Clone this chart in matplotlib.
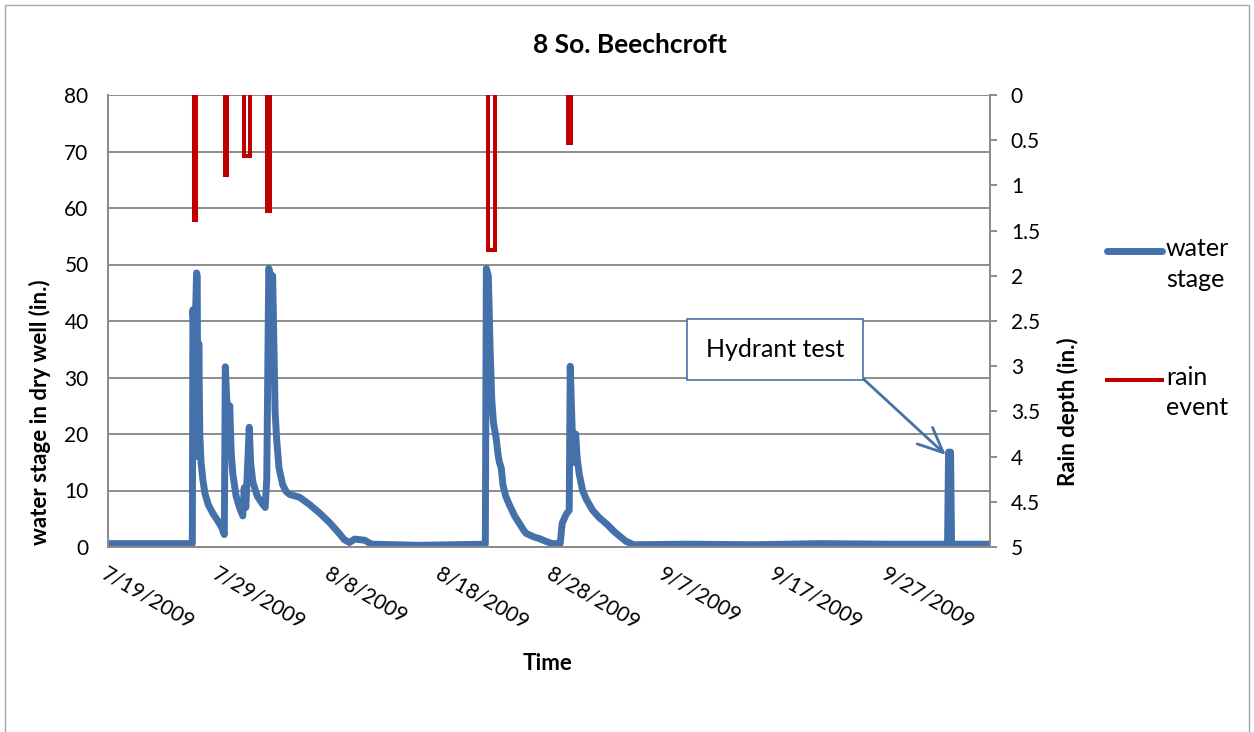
import numpy as np
import pandas as pd
import matplotlib
matplotlib.use('Agg')
import matplotlib.pyplot as plt
import matplotlib.dates as mdates
from matplotlib.patches import Rectangle
from matplotlib.ticker import FormatStrFormatter
from matplotlib.legend_handler import HandlerLine2D

plt.rcParams['font.family'] = ['Lato', 'DejaVu Sans']

# water stage readings, days since 7/19/2009 00:00 and stage (in.)
stage_day = [0.0, 3.76, 7.57, 7.62, 7.80, 7.95, 8.01, 8.06, 8.15, 8.24, 8.35, 8.51, 8.7,
             9.0, 9.4, 9.86, 10.2, 10.44, 10.53, 10.75, 10.93, 11.05, 11.2, 11.5, 11.8,
             12.10, 12.23, 12.37, 12.68, 12.8, 13.0, 13.4, 13.8, 14.11, 14.25, 14.43,
             14.61, 14.78, 14.9, 15.0, 15.14, 15.35, 15.68, 16.0, 16.31, 17.2, 18.1, 19.0,
             19.9, 20.8, 21.2, 21.68, 22.13, 23.03, 23.66, 27.96, 33.87, 33.96, 34.14,
             34.3, 34.45, 34.6, 34.86, 35.0, 35.13, 35.3, 35.45, 35.7, 36.02, 36.5, 36.92,
             37.3, 37.54, 38.2, 38.71, 39.3, 39.87, 40.59, 40.77, 41.13, 41.40, 41.49,
             41.6, 41.75, 41.85, 41.98, 42.1, 42.29, 42.6, 42.92, 43.5, 44.09, 44.8, 45.4,
             46.0, 46.5, 47.2, 52.0, 58.0, 64.0, 70.0, 75.36, 75.45, 75.63, 75.72, 79.1]
stage_in = [0.6, 0.6, 0.6, 42.0, 36.0, 48.5, 48.0, 16.0, 36.0, 20.0, 15.0, 12.0, 9.5,
            7.5, 6.0, 4.6, 3.5, 2.2, 31.9, 22.0, 25.0, 17.0, 13.0, 9.0, 7.0,
            5.5, 10.5, 7.0, 21.2, 15.0, 11.5, 9.0, 7.8, 7.0, 12.0, 49.3,
            48.0, 48.0, 35.0, 24.0, 19.0, 14.0, 11.0, 9.8, 9.3, 8.8, 7.5, 6.0,
            4.3, 2.3, 1.3, 0.8, 1.4, 1.2, 0.5, 0.3, 0.5, 49.3, 48.0,
            35.0, 26.0, 22.0, 19.0, 16.5, 15.0, 14.0, 11.0, 9.0, 7.5, 5.5, 4.2,
            3.0, 2.4, 1.8, 1.5, 1.0, 0.6, 0.6, 4.2, 5.8, 6.5, 32.0,
            25.0, 15.0, 15.0, 20.0, 16.0, 13.0, 10.0, 8.5, 6.5, 5.2, 4.0, 2.8,
            1.8, 1.0, 0.4, 0.5, 0.4, 0.6, 0.5, 0.5, 16.8, 16.8, 0.5, 0.5]

# rain events: start / end (days since 7/19/2009) and depth (in.)
rain_start = [7.72, 10.50, 12.19, 14.25, 34.10, 41.28]
rain_end = [7.90, 10.72, 12.73, 14.52, 34.74, 41.56]
rain_depth = [1.38, 0.885, 0.675, 1.28, 1.71, 0.53]

date_ticks = ['2009-07-19', '2009-07-29', '2009-08-08', '2009-08-18',
              '2009-08-28', '2009-09-07', '2009-09-17', '2009-09-27']

BLUE = '#4571ab'
RED = '#c00000'
GRAY = '#8c8c8c'


class TopLineHandler(HandlerLine2D):
    # put the legend line level with the first line of a two-line label
    def create_artists(self, legend, orig_handle, xdescent, ydescent, width, height,
                       fontsize, trans):
        return super().create_artists(legend, orig_handle, xdescent, ydescent, width,
                                      height + 1.1 * fontsize, fontsize, trans)


def main():
    base = mdates.date2num(pd.Timestamp('2009-07-19'))
    t_stage = base + np.array(stage_day)

    # rain drawn as an outline: down, across, up for each event
    rx, ry = [], []
    for s, e, d in zip(rain_start, rain_end, rain_depth):
        rx += [base + s, base + s, base + e, base + e, np.nan]
        ry += [0, d, d, 0, np.nan]

    fig = plt.figure(figsize=(12.54, 7.32), dpi=100)
    ax = fig.add_axes([108 / 1254, 1 - 547 / 732, 882 / 1254, 452 / 732])
    ax2 = ax.twinx()

    ax.plot(t_stage, stage_in, color=BLUE, lw=5.0, solid_joinstyle='round',
            solid_capstyle='round', label='water\nstage', zorder=3)
    ax2.plot(rx, ry, color=RED, lw=2.9, solid_joinstyle='miter', label='rain\nevent')

    ax.set_ylim(0, 80)
    ax.set_yticks(np.arange(0, 81, 10))
    ax.set_xlim(base, base + 79.17)
    ax.set_xticks(mdates.date2num(pd.to_datetime(date_ticks)))
    ax.xaxis.set_major_formatter(mdates.DateFormatter('%-m/%-d/%Y'))
    ax.grid(axis='y', color=GRAY, lw=1.4)
    ax.set_axisbelow(True)

    ax2.set_ylim(5, 0)
    ax2.set_yticks(np.arange(0, 5.01, 0.5))
    ax2.yaxis.set_major_formatter(FormatStrFormatter('%g'))

    for a in (ax, ax2):
        a.spines['top'].set_visible(False)
        for s in ('left', 'bottom', 'right'):
            a.spines[s].set_color(GRAY)
            a.spines[s].set_linewidth(1.4)
    ax.tick_params(axis='y', length=0, pad=14, labelsize=15)
    ax.tick_params(axis='x', length=0, pad=12, labelsize=15)
    ax2.tick_params(axis='y', length=5, width=1.4, color=GRAY, pad=10, labelsize=15)
    for lab in ax.get_xticklabels():
        lab.set_rotation(-30)
        lab.set_ha('left')
        lab.set_va('top')
        lab.set_rotation_mode('anchor')

    # hydrant test callout
    ax.annotate('Hydrant test', xy=(base + 75.2, 16.3), xytext=(base + 59.85, 34.95),
                ha='center', va='center', fontsize=18, zorder=5,
                bbox=dict(boxstyle='square,pad=0.75', fc='white', ec=BLUE, lw=1.2),
                arrowprops=dict(arrowstyle='->,head_length=1.0,head_width=0.45',
                                color=BLUE, lw=2.0, relpos=(1, 0), shrinkA=0, shrinkB=0))

    fig.text(0.502, 0.938, '8 So. Beechcroft', ha='center', va='center',
             fontsize=19, fontweight='bold')
    fig.text(0.032, 0.437, 'water stage in dry well (in.)', rotation=90,
             ha='center', va='center', fontsize=16, fontweight='bold')
    fig.text(0.852, 0.437, 'Rain depth (in.)', rotation=90,
             ha='center', va='center', fontsize=16, fontweight='bold')
    fig.text(0.437, 0.094, 'Time', ha='center', va='center',
             fontsize=16, fontweight='bold')

    h1, l1 = ax.get_legend_handles_labels()
    h2, l2 = ax2.get_legend_handles_labels()
    leg = fig.legend(h1 + h2, l1 + l2, loc='upper left', bbox_to_anchor=(0.873, 0.693),
                     frameon=False, fontsize=18, handlelength=2.2, handletextpad=0.15,
                     labelspacing=3.0, borderpad=0,
                     handler_map={h: TopLineHandler() for h in h1 + h2})
    for txt in leg.get_texts():
        txt.set_linespacing(1.4)

    fig.add_artist(Rectangle((5 / 1254, -0.05), 1244 / 1254, 1.05 - 5 / 732,
                             transform=fig.transFigure, fill=False, ec='#a6a6a6', lw=1))

    plt.savefig('out.png', dpi=100)


if __name__ == '__main__':
    main()
